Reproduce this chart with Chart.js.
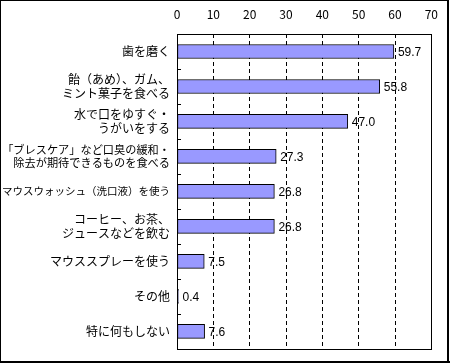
<!DOCTYPE html>
<html lang="ja">
<head>
<meta charset="UTF-8">
<title>口臭対策</title>
<script src="https://cdn.jsdelivr.net/npm/chart.js"></script>
<style>
  body { margin: 0; padding: 0; background: #fff; }
  canvas { display: block; }
</style>
</head>
<body>
<canvas id="chart" width="450" height="363"></canvas>
<script>
const categories = [
  '歯を磨く',
  ['飴（あめ）、ガム、', 'ミント菓子を食べる'],
  ['水で口をゆすぐ・', 'うがいをする'],
  ['「ブレスケア」など口臭の緩和・', '除去が期待できるものを食べる'],
  'マウスウォッシュ（洗口液）を使う',
  ['コーヒー、お茶、', 'ジュースなどを飲む'],
  'マウススプレーを使う',
  'その他',
  '特に何もしない'
];
const values = [59.7, 55.8, 47.0, 27.3, 26.8, 26.8, 7.5, 0.4, 7.6];
const xTicks = [0, 10, 20, 30, 40, 50, 60, 70];

const FONT = '"Noto Sans CJK JP", "Liberation Sans", sans-serif';

// 長いラベルは少し小さくして左端に収める
function labelSize(i) {
  const lab = categories[i];
  const lines = Array.isArray(lab) ? lab : [lab];
  const n = Math.max(...lines.map(s => s.length));
  return Math.min(12, 168 / n);
}

// 値ラベル・枠線・目盛り
const extras = {
  id: 'extras',
  afterDatasetsDraw(chart) {
    const ctx = chart.ctx;
    const meta = chart.getDatasetMeta(0);
    ctx.save();
    ctx.fillStyle = '#000';
    ctx.font = '12px "Liberation Sans", sans-serif';
    ctx.textAlign = 'left';
    ctx.textBaseline = 'middle';
    meta.data.forEach((bar, i) => {
      ctx.fillText(values[i].toFixed(1), bar.x + 4, bar.y + 1);
    });
    ctx.restore();
  },
  afterDraw(chart) {
    const ctx = chart.ctx;
    const a = chart.chartArea;
    const y = chart.scales.y;
    ctx.save();
    ctx.strokeStyle = '#000';
    ctx.lineWidth = 1;
    ctx.strokeRect(Math.round(a.left) + 0.5, Math.round(a.top) + 0.5,
      Math.round(a.right - a.left), Math.round(a.bottom - a.top));
    // 項目の区切り目盛り
    for (let i = 1; i < categories.length; i++) {
      const yy = Math.round((y.getPixelForValue(i - 1) + y.getPixelForValue(i)) / 2) + 0.5;
      ctx.beginPath();
      ctx.moveTo(a.left, yy);
      ctx.lineTo(a.left + 4, yy);
      ctx.stroke();
    }
    // 外枠
    ctx.beginPath();
    ctx.moveTo(0.5, 0.5); ctx.lineTo(448, 0.5);
    ctx.moveTo(0.5, 0); ctx.lineTo(0.5, 363);
    ctx.stroke();
    ctx.lineWidth = 2;
    ctx.beginPath();
    ctx.moveTo(448, 0); ctx.lineTo(448, 363);
    ctx.moveTo(0, 362); ctx.lineTo(450, 362);
    ctx.stroke();
    ctx.restore();
  }
};

new Chart(document.getElementById('chart'), {
  type: 'bar',
  data: {
    labels: categories,
    datasets: [{
      data: values,
      backgroundColor: '#9999ff',
      borderColor: '#000',
      borderWidth: 1,
      borderSkipped: false,
      barThickness: 14
    }]
  },
  plugins: [extras],
  options: {
    indexAxis: 'y',
    responsive: false,
    animation: false,
    devicePixelRatio: 1,
    layout: { padding: { left: 0, right: 17, top: 0, bottom: 6 } },
    plugins: { legend: { display: false }, tooltip: { enabled: false } },
    scales: {
      x: {
        position: 'top',
        min: 0,
        max: 70,
        afterBuildTicks(scale) { scale.ticks = xTicks.map(v => ({ value: v })); },
        afterFit(scale) { scale.height = 34; },
        grid: {
          drawTicks: false,
          tickLength: 0,
          color: c => (c.tick && c.tick.value > 0 && c.tick.value < 70) ? '#000' : 'rgba(0,0,0,0)',
          lineWidth: 1
        },
        border: { display: false, dash: [4, 3] },
        ticks: { color: '#000', padding: 12, font: { family: FONT, size: 12 } }
      },
      y: {
        afterFit(scale) { scale.width = 177; },
        border: { display: false },
        grid: { display: false, drawTicks: false, tickLength: 0 },
        ticks: {
          color: '#000',
          padding: 7,
          autoSkip: false,
          font: c => ({ family: FONT, size: labelSize(c.index), lineHeight: 1.2 })
        }
      }
    }
  }
});
</script>
</body>
</html>
